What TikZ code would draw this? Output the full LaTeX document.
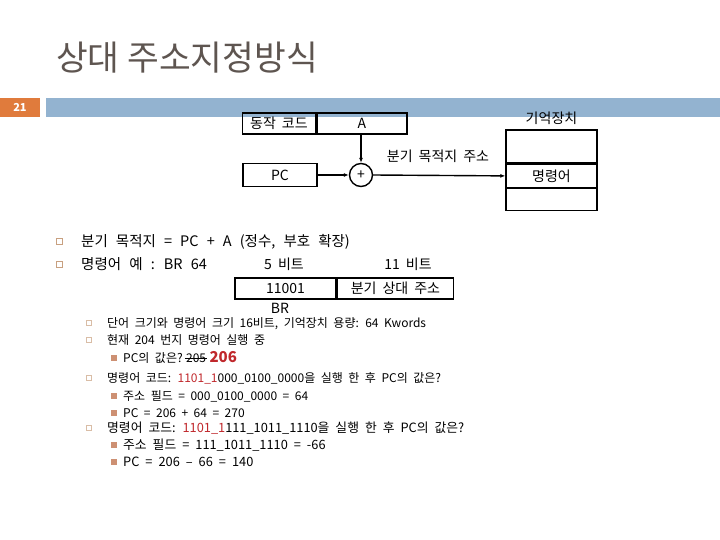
\documentclass[tikz,border=0pt]{standalone}
\usepackage{fontspec}
\setmainfont{Noto Sans CJK KR}
\usetikzlibrary{arrows.meta}
\definecolor{titlec}{HTML}{5E5550}
\definecolor{barblue}{HTML}{93B3D0}
\definecolor{numorange}{HTML}{E07B3C}
\definecolor{redt}{HTML}{C0282C}
\definecolor{bulc}{HTML}{C8A080}
\newcommand\fntT{\fontsize{14.5}{16}\selectfont\setlength{\spaceskip}{8.1pt plus 1pt}}
\newcommand\fntS{\fontsize{12}{13}\selectfont\setlength{\spaceskip}{5.5pt plus 1pt}}
\newcommand\fntB{\fontsize{12.8}{14}\selectfont\setlength{\spaceskip}{6pt plus 1pt}}
\newcommand\fntL{\fontsize{14}{15}\selectfont\setlength{\spaceskip}{6pt plus 1pt}}
\tikzset{
  x=1pt,y=-1pt,
  cell/.style={draw,line width=1.4pt,minimum height=0pt,inner sep=0pt},
  conn/.style={line width=1.4pt,-{Latex[length=5pt,width=4pt]}},
  txt/.style={anchor=base west,inner sep=0pt,font=\fntT},
  stxt/.style={anchor=base west,inner sep=0pt,font=\fntS},
  btxt/.style={anchor=base west,inner sep=0pt,font=\fntB},
  lbl/.style={inner sep=0pt,font=\fntL},
  hbul/.style={draw=bulc,line width=0.6pt,fill=white,minimum size=6pt,inner sep=0pt},
  sbul/.style={draw=bulc!70,line width=0.5pt,minimum size=5pt,inner sep=0pt},
  fbul/.style={fill=bulc!90!red,minimum size=5.5pt,inner sep=0pt}
}
\begin{document}
\begin{tikzpicture}
\useasboundingbox (0,0) rectangle (720,540);
% title
\node[anchor=base west,inner sep=0pt,text=titlec,font=\fontsize{34.5}{37}\selectfont] (title) at (56,71) {상대 주소지정방식};
% header bar
\fill[numorange] (0,98) rectangle (40,117);
\node[text=white,font=\bfseries\fontsize{11}{12}\selectfont] (num) at (20,107.5) {21};
\fill[barblue] (46,98) rectangle (720,117);
% instruction format
\node[cell,minimum width=73pt,minimum height=21pt,lbl] (op) at (279,123.5) {동작 코드};
\node[cell,minimum width=90pt,minimum height=21pt,lbl,anchor=west] (a) at (op.east) {A};
\node[cell,minimum width=74pt,minimum height=23pt,lbl] (pc) at (280,175) {PC};
\node[draw,circle,line width=1.4pt,minimum size=23pt,inner sep=0pt,lbl] (add) at (361,175) {+};
% memory
\node[cell,minimum width=91pt,minimum height=33pt] (m1) at (551.5,146.5) {};
\node[cell,minimum width=91pt,minimum height=23pt,anchor=north,lbl] (m2) at (m1.south) {명령어};
\node[cell,minimum width=91pt,minimum height=22pt,anchor=north] (m3) at (m2.south) {};
\node[lbl,anchor=south] (mem) at ([yshift=4pt]m1.north) {기억장치};
\draw[conn] (add|-a.south) -- (add.north);
\draw[conn] (pc.east) -- (add.west);
\draw[conn] (add.east) -- (m2.west);
\node[lbl,anchor=base] (tgt) at (438,162) {분기 목적지 주소};
% bullets
\node[hbul] (b1) at (59,241) {};
\node[txt] (t1) at (81,246) {분기 목적지 = PC + A (정수, 부호 확장)};
\node[hbul] (b2) at (59,264) {};
\node[txt] (t2) at (81,269) {명령어 예 : BR 64};
\node[lbl,anchor=base] (five) at (284,269) {5 비트};
\node[lbl,anchor=base] (eleven) at (408,269) {11 비트};
\node[cell,minimum width=101pt,minimum height=21pt,lbl] (br) at (285.5,288.5) {11001};
\node[cell,minimum width=116pt,minimum height=21pt,lbl,anchor=west] (rel) at (br.east) {분기 상대 주소};
\node[lbl,anchor=base] (brl) at (280,313) {BR};
% sub bullets
\node[sbul] (s1) at (89,323) {};
\node[stxt] (u1) at (107,327) {단어 크기와 명령어 크기 16비트, 기억장치 용량: 64 Kwords};
\node[sbul] (s2) at (89,340) {};
\node[stxt] (u2) at (107,344) {현재 204 번지 명령어 실행 중};
\node[fbul] (f1) at (114,358) {};
\node[stxt] (v1) at (123,362) {PC의 값은?};
\node[stxt] (old) at ([xshift=3pt]v1.base east) {205};
\draw[line width=1pt] ([xshift=-1pt,yshift=4pt]old.base west) -- ([xshift=1pt,yshift=4pt]old.base east);
\node[stxt,text=redt,font=\bfseries\fontsize{15}{16}\selectfont] (new) at ([xshift=3pt]old.base east) {206};
\node[sbul] (s3) at (89,378) {};
\node[stxt] (u3) at (107,382) {명령어 코드: {\color{redt}1101\_1}000\_0100\_0000을 실행 한 후 PC의 값은?};
\node[fbul] (f2) at (114,396) {};
\node[stxt] (v2) at (123,400) {주소 필드 = 000\_0100\_0000 = 64};
\node[fbul] (f3) at (114,413) {};
\node[stxt] (v3) at (123,417) {PC = 206 + 64 = 270};
\node[sbul] (s4) at (89,428) {};
\node[btxt] (u4) at (107,432.5) {명령어 코드: {\color{redt}1101\_1}111\_1011\_1110을 실행 한 후 PC의 값은?};
\node[fbul] (f4) at (114,445) {};
\node[btxt] (v4) at (123,449.5) {주소 필드 = 111\_1011\_1110 = -66};
\node[fbul] (f5) at (114,462) {};
\node[btxt] (v5) at (123,466.5) {PC = 206 – 66 = 140};
\end{tikzpicture}
\end{document}
